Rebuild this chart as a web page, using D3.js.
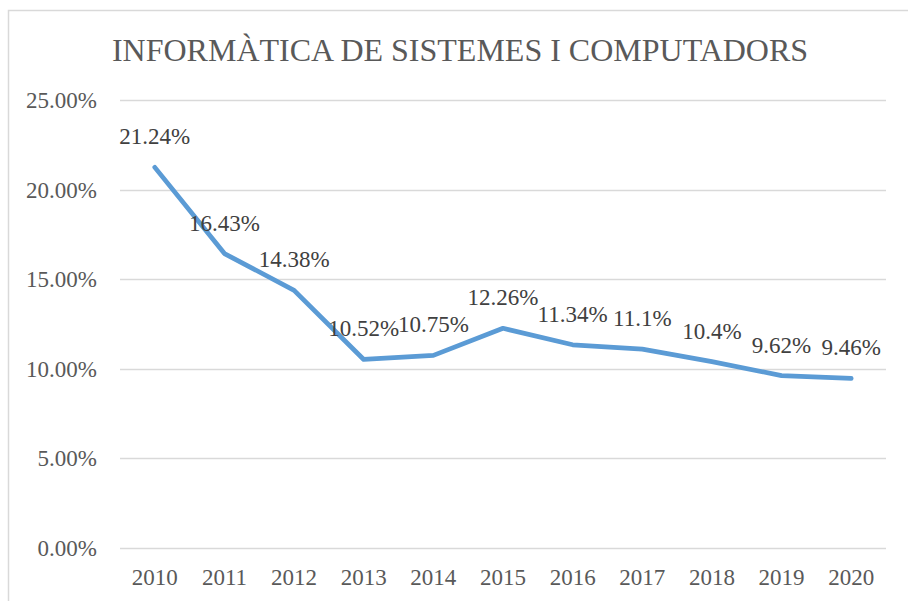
<!DOCTYPE html>
<html><head><meta charset="utf-8">
<script src="https://cdn.jsdelivr.net/npm/d3@7"></script>
<style>body{margin:0;background:#fff}svg{display:block}</style>
</head><body>
<script>
const title = "INFORMÀTICA DE SISTEMES I COMPUTADORS";
const years = ["2010","2011","2012","2013","2014","2015","2016","2017","2018","2019","2020"];
const values = [21.24,16.43,14.38,10.52,10.75,12.26,11.34,11.1,10.4,9.62,9.46];
const valueLabels = ["21.24%","16.43%","14.38%","10.52%","10.75%","12.26%","11.34%","11.1%","10.4%","9.62%","9.46%"];
const yTicks = [0,5,10,15,20,25];

const W = 908, H = 601;
const svg = d3.select("body").append("svg").attr("width", W).attr("height", H);
const font = "'Liberation Serif','Times New Roman',serif";
const fs = 23;

svg.append("rect").attr("x", 8.5).attr("y", 10.5).attr("width", 920).attr("height", 620)
  .attr("fill", "#fff").attr("stroke", "#d9d9d9").attr("stroke-width", 1.5);

const x = d3.scaleBand().domain(years).range([120, 886]);
const y = d3.scaleLinear().domain([0, 25]).range([548, 100]);

svg.append("text").attr("x", 460).attr("y", 61).attr("text-anchor", "middle")
  .attr("font-family", font).attr("font-size", 32).attr("fill", "#595959").text(title);

const grid = svg.append("g");
grid.selectAll("line").data(yTicks).join("line")
  .attr("x1", 120).attr("x2", 886)
  .attr("y1", d => Math.round(y(d)) + 0.5).attr("y2", d => Math.round(y(d)) + 0.5)
  .attr("stroke", "#d9d9d9").attr("stroke-width", 1.5);

const yAxis = d3.axisLeft(y).tickValues(yTicks).tickSize(0).tickPadding(0)
  .tickFormat(d => d.toFixed(2) + "%");
const ya = svg.append("g").attr("transform", "translate(97,0)").call(yAxis);
ya.attr("font-family", font).attr("font-size", fs);
ya.select(".domain").remove();
ya.selectAll("text").attr("font-family", font).attr("font-size", fs).attr("fill", "#595959").attr("dy", "0.33em");

const xAxis = d3.axisBottom(x).tickSize(0).tickPadding(0);
const xa = svg.append("g").attr("transform", "translate(0,569)").call(xAxis);
xa.attr("font-family", font).attr("font-size", fs);
xa.select(".domain").remove();
xa.selectAll("text").attr("font-family", font).attr("font-size", fs).attr("fill", "#595959").attr("dy", "0.7em");

const cx = d => x(d) + x.bandwidth() / 2;
const line = d3.line().x((d, i) => cx(years[i])).y(d => y(d));
svg.append("path").datum(values).attr("d", line).attr("fill", "none")
  .attr("stroke", "#5b9bd5").attr("stroke-width", 4.75)
  .attr("stroke-linejoin", "round").attr("stroke-linecap", "round");

svg.append("g").selectAll("text").data(values).join("text")
  .attr("x", (d, i) => cx(years[i])).attr("y", d => y(d) - 23)
  .attr("text-anchor", "middle").attr("font-family", font).attr("font-size", fs)
  .attr("fill", "#404040").text((d, i) => valueLabels[i]);
</script>
</body></html>
